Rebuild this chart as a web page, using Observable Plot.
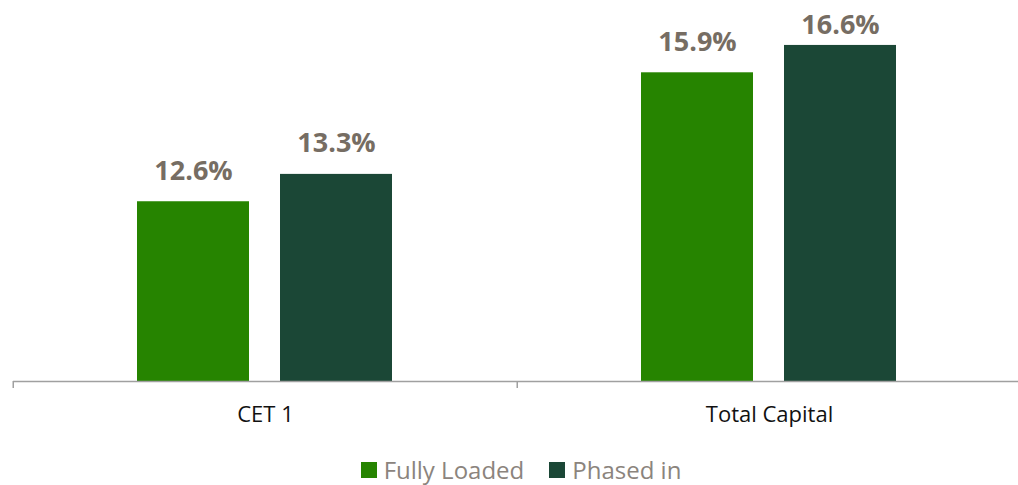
<!DOCTYPE html>
<html>
<head>
<meta charset="utf-8">
<script src="https://cdn.jsdelivr.net/npm/d3@7"></script>
<script src="https://cdn.jsdelivr.net/npm/@observablehq/plot@0.6"></script>
<style>
  html, body { margin: 0; padding: 0; background: #fff; }
  body { width: 1018px; height: 485px; overflow: hidden; font-family: "Open Sans", sans-serif; }
  #legend { display: flex; justify-content: center; align-items: center; height: 30px; padding-left: 24px;
            font-size: 24px; line-height: 26px; color: #8b847d; gap: 25px; }
  #legend .item { display: flex; align-items: center; gap: 7px; }
  #legend .sw { width: 16px; height: 16px; display: inline-block; }
</style>
</head>
<body>
<div id="chart"></div>
<div id="legend"></div>
<script>
const categories = ["CET 1", "Total Capital"];
const series = ["Fully Loaded", "Phased in"];
const fullyLoaded = [12.6, 15.9];
const phasedIn = [13.3, 16.6];
const colors = ["#268400", "#1b4736"];
const yMin = 8;
const yMax = 17.75;
const labelCeiling = 16.32; // labels are kept inside the plot area, as in the original

const data = [];
categories.forEach((c, i) => {
  data.push({category: c, series: series[0], value: fullyLoaded[i]});
  data.push({category: c, series: series[1], value: phasedIn[i]});
});

const W = 1018, H = 455, ML = 12, MR = -3, MT = 0, MB = 74;
const facetW = (W - ML - MR) / categories.length;

const plot = Plot.plot({
  width: W, height: H,
  marginLeft: ML, marginRight: MR, marginTop: MT, marginBottom: MB,
  style: {fontFamily: "Open Sans, sans-serif", background: "#fff"},
  fx: {domain: categories, padding: 0, axis: null, label: null},
  x: {domain: series, paddingInner: 0.216, paddingOuter: 0.86, axis: null},
  y: {domain: [yMin, yMax], axis: null},
  color: {domain: series, range: colors},
  marks: [
    Plot.barY(data, {fx: "category", x: "series", y1: yMin, y2: "value", fill: "series"}),
    Plot.ruleY([yMin], {stroke: "#a0a0a0", strokeWidth: 1.5}),
    Plot.text(data, {fx: "category", x: "series", y: d => Math.min(d.value, labelCeiling),
      text: d => d.value.toFixed(1) + "%", lineAnchor: "bottom", dy: -22,
      fontSize: 27, fontWeight: "bold", fill: "#766d63"}),
    Plot.axisFx({anchor: "bottom", tickSize: 7, tickFormat: () => "", label: null,
      dx: -facetW / 2, stroke: "#a0a0a0", strokeWidth: 1.5}),
    Plot.axisFx({anchor: "bottom", tickSize: 0, tickPadding: 25, label: null,
      fontSize: 22, fill: "#111"})
  ]
});
plot.style.display = "block";
document.getElementById("chart").appendChild(plot);

const legend = document.getElementById("legend");
series.forEach((s, i) => {
  const item = document.createElement("span");
  item.className = "item";
  const sw = document.createElement("span");
  sw.className = "sw";
  sw.style.background = colors[i];
  const t = document.createElement("span");
  t.textContent = s;
  item.appendChild(sw);
  item.appendChild(t);
  legend.appendChild(item);
});
</script>
</body>
</html>
